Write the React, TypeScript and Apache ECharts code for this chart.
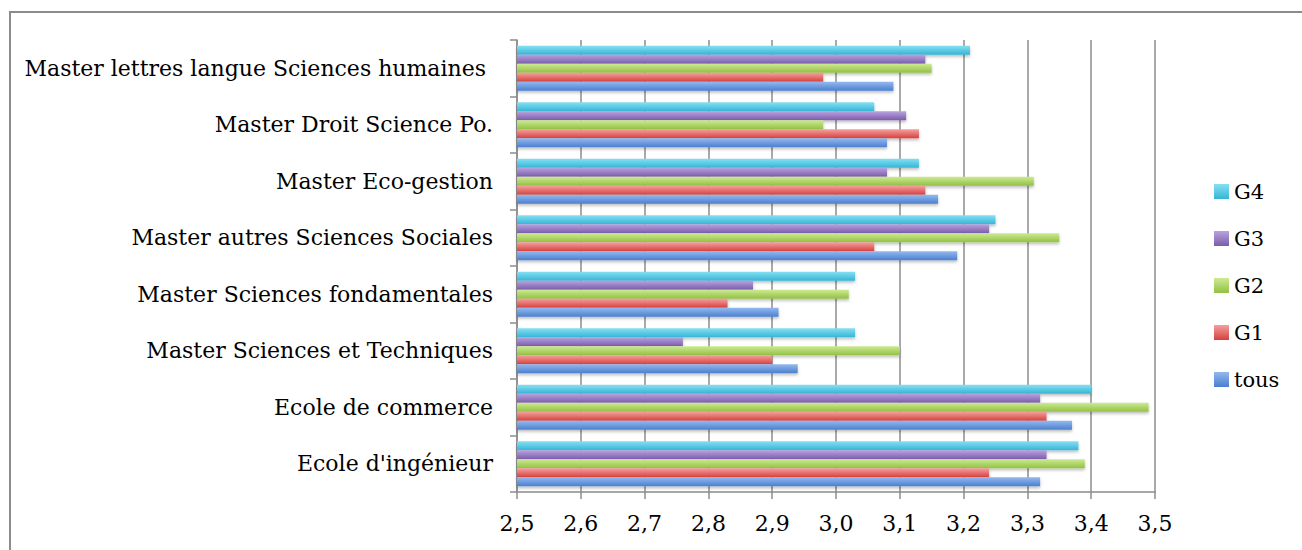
import React, { useEffect, useRef } from "react";
import * as echarts from "echarts";

const categories = [
  "Ecole d'ingénieur",
  "Ecole de commerce",
  "Master Sciences et Techniques",
  "Master Sciences fondamentales",
  "Master autres Sciences Sociales",
  "Master Eco-gestion",
  "Master Droit Science Po.",
  "Master lettres langue Sciences humaines ",
];

const tous = [3.32, 3.37, 2.94, 2.91, 3.19, 3.16, 3.08, 3.09];
const g1 = [3.24, 3.33, 2.9, 2.83, 3.06, 3.14, 3.13, 2.98];
const g2 = [3.39, 3.49, 3.1, 3.02, 3.35, 3.31, 2.98, 3.15];
const g3 = [3.33, 3.32, 2.76, 2.87, 3.24, 3.08, 3.11, 3.14];
const g4 = [3.38, 3.4, 3.03, 3.03, 3.25, 3.13, 3.06, 3.21];

const legendOrder = ["G4", "G3", "G2", "G1", "tous"];

const FONT = "DejaVu Serif";

function grad(top: string, bottom: string) {
  return new echarts.graphic.LinearGradient(0, 0, 0, 1, [
    { offset: 0, color: top },
    { offset: 1, color: bottom },
  ]);
}

export default function App() {
  const ref = useRef<HTMLDivElement>(null);

  useEffect(() => {
    if (!ref.current) return;
    const chart = echarts.init(ref.current, undefined, { renderer: "svg" });

    const mk = (name: string, data: number[], top: string, bottom: string) => ({
      name,
      type: "bar",
      data,
      barGap: "0%",
      barCategoryGap: "20%",
      clip: true,
      itemStyle: {
        color: grad(top, bottom),
        shadowBlur: 3,
        shadowOffsetY: 2,
        shadowColor: "rgba(0,0,0,0.25)",
      },
    });

    chart.setOption({
      animation: false,
      backgroundColor: "#ffffff",
      textStyle: { fontFamily: FONT },
      grid: { left: 517, right: 147, top: 40, bottom: 58, containLabel: false },
      legend: {
        orient: "vertical",
        left: 1214,
        top: 181,
        padding: 0,
        itemWidth: 15,
        itemHeight: 15,
        itemGap: 26,
        icon: "rect",
        data: legendOrder,
        textStyle: { fontFamily: FONT, fontSize: 21, color: "#000" },
      },
      xAxis: {
        type: "value",
        min: 2.5,
        max: 3.5,
        interval: 0.1,
        axisLine: { show: true, lineStyle: { color: "#8c8c8c", width: 1.5 } },
        axisTick: { show: true, length: 7, lineStyle: { color: "#8c8c8c", width: 1.5 } },
        splitLine: { show: true, lineStyle: { color: "#8c8c8c", width: 1.5 } },
        axisLabel: {
          margin: 20,
          fontFamily: FONT,
          fontSize: 22,
          color: "#000",
          formatter: (v: number) => v.toFixed(1).replace(".", ","),
        },
      },
      yAxis: {
        type: "category",
        data: categories,
        axisLine: { show: true, lineStyle: { color: "#8c8c8c", width: 1.5 } },
        axisTick: { show: true, length: 7, lineStyle: { color: "#8c8c8c", width: 1.5 } },
        axisLabel: {
          margin: 24,
          fontFamily: FONT,
          fontSize: 22,
          color: "#000",
        },
      },
      graphic: [
        {
          type: "rect",
          shape: { x: 10, y: 12, width: 1400, height: 700 },
          style: { fill: "none", stroke: "#8c8c8c", lineWidth: 2 },
          silent: true,
        },
      ],
      series: [
        mk("G4", g4, "#86e0f3", "#36b5d6"),
        mk("G3", g3, "#b9a3df", "#7b5cab"),
        mk("G2", g2, "#cdea93", "#92c143"),
        mk("G1", g1, "#f4a09e", "#d6403d"),
        mk("tous", tous, "#93b8ee", "#4a7fcf"),
      ],
    });

    return () => chart.dispose();
  }, []);

  return (
    <div
      ref={ref}
      style={{ position: "fixed", left: 0, top: 0, width: 1302, height: 550 }}
    />
  );
}
